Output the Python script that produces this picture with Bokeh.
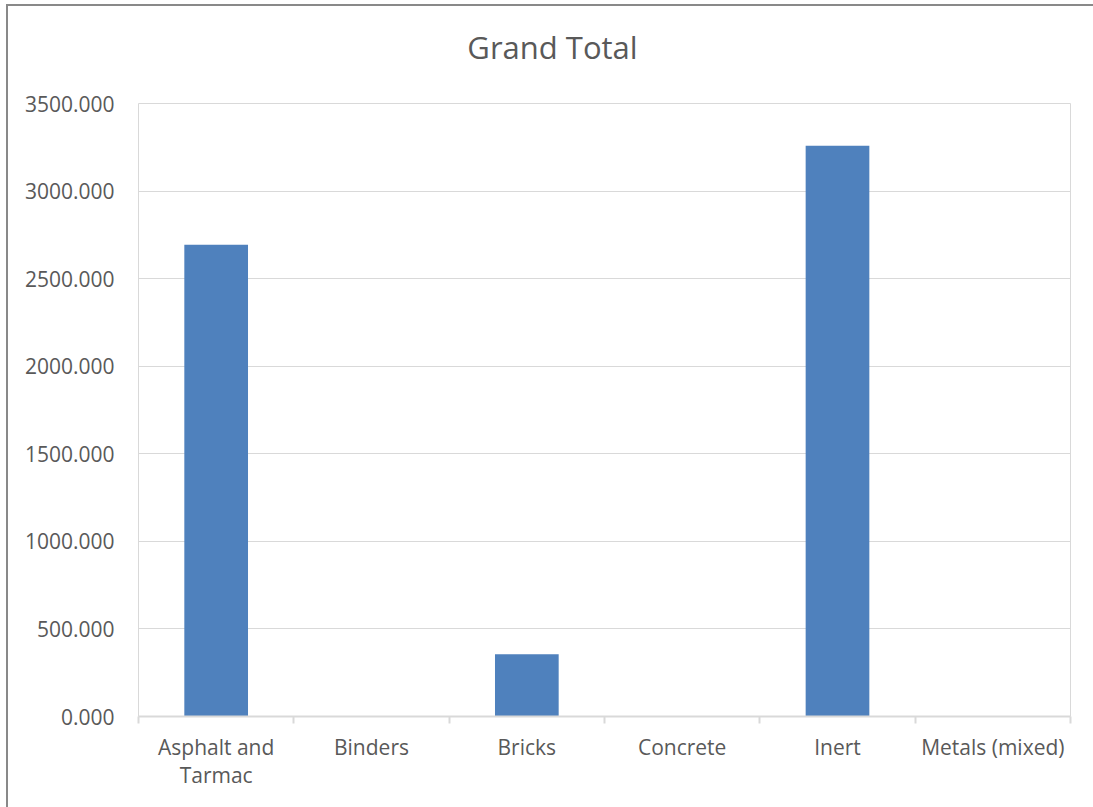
from bokeh.plotting import figure
from bokeh.layouts import column
from bokeh.models import Range1d, FixedTicker, NumeralTickFormatter, ColumnDataSource, Div
from bokeh.embed import file_html
from bokeh.resources import INLINE

title_text = "Grand Total"
categories = ["Asphalt and Tarmac", "Binders", "Bricks", "Concrete", "Inert", "Metals (mixed)"]
tick_labels = ["Asphalt and\nTarmac", "Binders", "Bricks", "Concrete", "Inert", "Metals (mixed)"]
values = [2693, 0, 356, 0, 3259, 0]
y_ticks = [0, 500, 1000, 1500, 2000, 2500, 3000, 3500]

FONT = "Open Sans"
TXT = "#595959"
GRID = "#d9d9d9"

n = len(categories)
positions = [i + 0.5 for i in range(n)]
src = ColumnDataSource(dict(x=positions, top=values, cat=categories))

title_div = Div(text=title_text, width=1085, height=82, margin=0,
                styles={"font-family": FONT, "font-size": "31px", "color": TXT,
                        "text-align": "center", "line-height": "82px", "text-indent": "4px",
                        "white-space": "nowrap"})

p = figure(width=1085, height=719, output_backend="svg", toolbar_location=None,
           x_range=Range1d(0, n), y_range=Range1d(0, 3500),
           min_border_left=130, min_border_right=23, min_border_top=15, min_border_bottom=91)

p.vbar(x="x", top="top", width=0.41, source=src, fill_color="#4f81bd", line_color=None)

p.outline_line_color = GRID
p.outline_line_width = 1
p.xgrid.grid_line_color = None
p.ygrid.grid_line_color = GRID
p.ygrid.grid_line_width = 1
p.ygrid.ticker = FixedTicker(ticks=y_ticks)

ya = p.yaxis[0]
ya.ticker = FixedTicker(ticks=y_ticks)
ya.formatter = NumeralTickFormatter(format="0.000")
ya.axis_line_color = None
ya.major_tick_line_color = None
ya.minor_tick_line_color = None
ya.major_label_standoff = 18
ya.major_label_text_font = FONT
ya.major_label_text_font_size = "21px"
ya.major_label_text_color = TXT

xa = p.xaxis[0]
xa.ticker = FixedTicker(ticks=positions, minor_ticks=list(range(n + 1)))
xa.major_label_overrides = {pos: lab for pos, lab in zip(positions, tick_labels)}
xa.axis_line_color = GRID
xa.axis_line_width = 2
xa.major_tick_line_color = None
xa.major_tick_out = 0
xa.major_tick_in = 0
xa.minor_tick_line_color = GRID
xa.minor_tick_line_width = 2
xa.minor_tick_out = 7
xa.minor_tick_in = 0
xa.major_label_standoff = 9
xa.major_label_text_font = FONT
xa.major_label_text_font_size = "21px"
xa.major_label_text_line_height = 1.0
xa.major_label_text_color = TXT

layout = column(title_div, p, spacing=0)
layout.styles = {"margin-left": "6px", "margin-top": "4px",
                 "border-left": "2px solid #898989", "border-top": "2px solid #898989"}

open("out.html", "w").write(file_html(layout, INLINE))
